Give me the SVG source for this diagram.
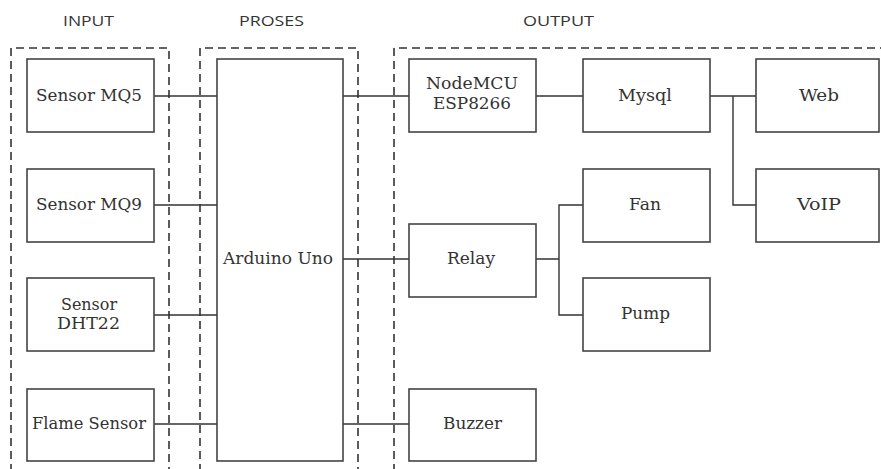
<svg xmlns="http://www.w3.org/2000/svg" width="881" height="469" viewBox="0 0 881 469">
<style>
.bg{fill:#ffffff}
.grp{fill:none;stroke:#333;stroke-width:1.6;stroke-dasharray:8 5}
.box{fill:#ffffff;stroke:#444;stroke-width:1.6}
.ln{fill:none;stroke:#333;stroke-width:1.4}
.hd{font-family:'Open Sans','Liberation Sans',sans-serif;font-size:14px;fill:#333;text-anchor:middle}
.tx{font-family:'DejaVu Serif','Liberation Serif',serif;font-size:16px;fill:#333;text-anchor:middle}
</style>
<rect class="bg" x="0" y="0" width="881" height="469"/>
<g id="groups">
<text class="hd" x="88.5" y="26" textLength="51" lengthAdjust="spacingAndGlyphs">INPUT</text>
<text class="hd" x="271.5" y="26" textLength="65" lengthAdjust="spacingAndGlyphs">PROSES</text>
<text class="hd" x="558.5" y="26" textLength="71" lengthAdjust="spacingAndGlyphs">OUTPUT</text>
<path class="grp" d="M11,472 V48 H169 V472"/>
<path class="grp" d="M200,472 V48 H358 V472"/>
<path class="grp" d="M394,472 V48 H884"/>
</g>
<g id="connectors">
<line class="ln" x1="154" y1="96" x2="217" y2="96"/>
<line class="ln" x1="154" y1="205" x2="217" y2="205"/>
<line class="ln" x1="154" y1="315" x2="217" y2="315"/>
<line class="ln" x1="154" y1="424" x2="217" y2="424"/>
<line class="ln" x1="343" y1="96" x2="409" y2="96"/>
<line class="ln" x1="343" y1="259" x2="409" y2="259"/>
<line class="ln" x1="343" y1="424" x2="409" y2="424"/>
<line class="ln" x1="536" y1="96" x2="583" y2="96"/>
<path class="ln" d="M710,96 H756 M733,96 V205 H756"/>
<path class="ln" d="M536,259 H559 M583,205 H559 V315 H583"/>
</g>
<g id="mq5"><rect class="box" x="27" y="59" width="127" height="73"/><text class="tx" x="89" y="101" textLength="106" lengthAdjust="spacingAndGlyphs">Sensor MQ5</text></g>
<g id="mq9"><rect class="box" x="27" y="169" width="127" height="73"/><text class="tx" x="89" y="210" textLength="106" lengthAdjust="spacingAndGlyphs">Sensor MQ9</text></g>
<g id="dht22"><rect class="box" x="27" y="278" width="127" height="73"/><text class="tx" x="89" y="310" textLength="56" lengthAdjust="spacingAndGlyphs">Sensor</text><text class="tx" x="88.5" y="329" textLength="63" lengthAdjust="spacingAndGlyphs">DHT22</text></g>
<g id="flame"><rect class="box" x="27" y="389" width="127" height="72"/><text class="tx" x="89" y="429" textLength="114" lengthAdjust="spacingAndGlyphs">Flame Sensor</text></g>
<g id="arduino"><rect class="box" x="217" y="59" width="126" height="402"/><text class="tx" x="278" y="264" textLength="110" lengthAdjust="spacingAndGlyphs">Arduino Uno</text></g>
<g id="nodemcu"><rect class="box" x="409" y="59" width="127" height="73"/><text class="tx" x="472" y="89" textLength="92" lengthAdjust="spacingAndGlyphs">NodeMCU</text><text class="tx" x="472" y="109" textLength="78" lengthAdjust="spacingAndGlyphs">ESP8266</text></g>
<g id="mysql"><rect class="box" x="583" y="59" width="127" height="73"/><text class="tx" x="645" y="101" textLength="54" lengthAdjust="spacingAndGlyphs">Mysql</text></g>
<g id="web"><rect class="box" x="756" y="59" width="123" height="73"/><text class="tx" x="819" y="101" textLength="40" lengthAdjust="spacingAndGlyphs">Web</text></g>
<g id="fan"><rect class="box" x="583" y="169" width="127" height="73"/><text class="tx" x="645" y="210" textLength="32" lengthAdjust="spacingAndGlyphs">Fan</text></g>
<g id="voip"><rect class="box" x="756" y="169" width="123" height="73"/><text class="tx" x="819" y="210" textLength="44" lengthAdjust="spacingAndGlyphs">VoIP</text></g>
<g id="relay"><rect class="box" x="409" y="224" width="127" height="73"/><text class="tx" x="471" y="264" textLength="48" lengthAdjust="spacingAndGlyphs">Relay</text></g>
<g id="pump"><rect class="box" x="583" y="278" width="127" height="73"/><text class="tx" x="645.5" y="319" textLength="49" lengthAdjust="spacingAndGlyphs">Pump</text></g>
<g id="buzzer"><rect class="box" x="409" y="389" width="127" height="72"/><text class="tx" x="472.5" y="429" textLength="59" lengthAdjust="spacingAndGlyphs">Buzzer</text></g>
</svg>
